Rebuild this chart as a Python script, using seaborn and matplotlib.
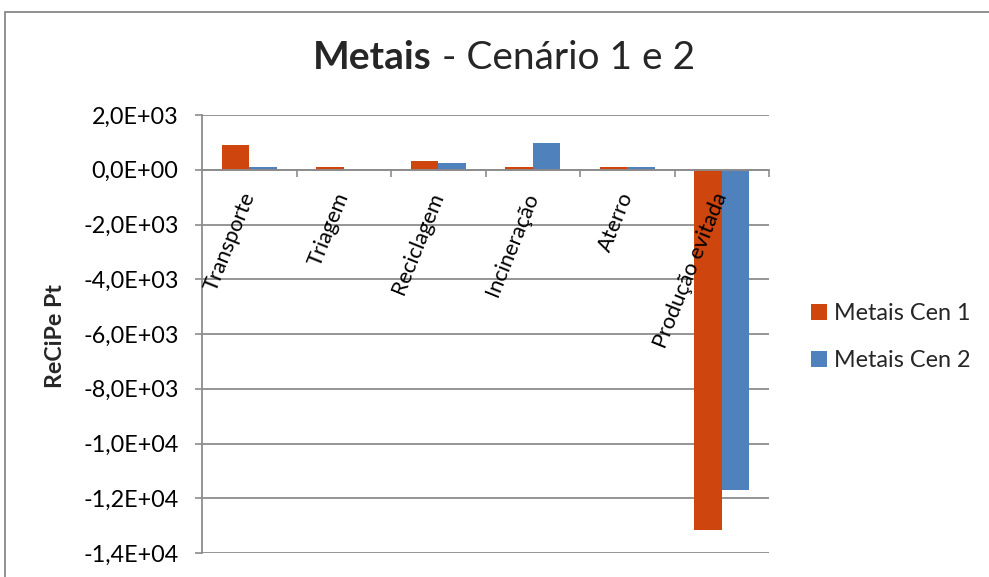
import matplotlib
matplotlib.use("Agg")
import matplotlib.pyplot as plt
import seaborn as sns
import pandas as pd
from matplotlib.patches import Rectangle
from matplotlib.ticker import FixedLocator, FuncFormatter

categories = ["Transporte", "Triagem", "Reciclagem", "Incineração", "Aterro", "Produção evitada"]
series_names = ["Metais Cen 1", "Metais Cen 2"]
cen1 = [890, 90, 307, 90, 90, -13150]
cen2 = [90, 5, 234, 965, 90, -11700]
yticks = [2000, 0, -2000, -4000, -6000, -8000, -10000, -12000, -14000]
colors = ["#CF450E", "#4F81BD"]
title_bold = "Metais"
title_rest = " - Cenário 1 e 2"
ylabel = "ReCiPe Pt"

df = pd.DataFrame({
    "cat": categories * 2,
    "serie": [series_names[0]] * len(categories) + [series_names[1]] * len(categories),
    "val": cen1 + cen2,
})

sns.set_theme(style="white")
plt.rcParams["font.family"] = ["Lato", "DejaVu Sans"]

W, H = 989, 577
fig = plt.figure(figsize=(W / 100, H / 100), dpi=100)
ax = fig.add_axes([202 / W, 1 - 553 / H, (769 - 202) / W, (553 - 115) / H])

sns.barplot(data=df, x="cat", y="val", hue="serie", palette=colors, width=0.578,
            dodge=True, ax=ax, order=categories, hue_order=series_names,
            edgecolor="none", linewidth=0, saturation=1)

grid_c = "#8C8C8C"
ax.set_ylim(-14000, 2000)
ax.set_xlim(-0.5, len(categories) - 0.5)
ax.yaxis.set_major_locator(FixedLocator(yticks))
ax.yaxis.set_major_formatter(FuncFormatter(lambda v, p: f"{v:.1E}".replace(".", ",")))
ax.set_axisbelow(True)
ax.yaxis.grid(True, color=grid_c, lw=1.3)
ax.xaxis.grid(False)
ax.xaxis.set_zorder(4)

for s in ["top", "right"]:
    ax.spines[s].set_visible(False)
ax.spines["left"].set_color(grid_c)
ax.spines["left"].set_linewidth(1.3)
ax.spines["bottom"].set_position(("data", 0))
ax.spines["bottom"].set_color(grid_c)
ax.spines["bottom"].set_linewidth(1.3)

ax.tick_params(axis="y", which="major", left=True, length=5, width=1.2, color=grid_c,
               pad=12, labelsize=16.8, labelcolor="black")
ax.set_xticks(range(len(categories)))
ax.set_xticks([i + 0.5 for i in range(len(categories))], minor=True)
ax.tick_params(axis="x", which="major", bottom=True, length=0, pad=17, labelsize=15.7,
               labelcolor="black")
ax.tick_params(axis="x", which="minor", bottom=True, length=5, width=1.2, color=grid_c)
ax.set_xticklabels(categories, rotation=68, ha="right", va="center", rotation_mode="anchor")
ax.set_xlabel("")
ax.set_ylabel("")

fig.text(55 / W, 1 - 336 / H, ylabel, rotation=90, fontsize=16.7, fontweight="bold",
         ha="center", va="center")

# legend
handles, labels = ax.get_legend_handles_labels()
if ax.legend_:
    ax.legend_.remove()
fig.legend(handles, labels, loc="center left", bbox_to_anchor=(811 / W, 1 - 337 / H),
           frameon=False, fontsize=16.8, handlelength=0.69, handleheight=0.69,
           handletextpad=0.3, labelspacing=1.1, borderpad=0, borderaxespad=0)

# title in two weights, centred
ty = 1 - 69 / H
t1 = fig.text(0, ty, title_bold, fontsize=28, fontweight="bold", va="baseline", ha="left")
t2 = fig.text(0, ty, title_rest, fontsize=28, va="baseline", ha="left")
fig.canvas.draw()
r = fig.canvas.get_renderer()
w1 = t1.get_window_extent(r).width
w2 = t2.get_window_extent(r).width
cx = 504
x0 = cx - (w1 + w2) / 2
t1.set_x(x0 / W)
t2.set_x((x0 + w1) / W)

# chart border
fig.patches.append(Rectangle((5 / W, -0.1), 1.2, 1 - 12 / H + 0.1, transform=fig.transFigure,
                             fill=False, edgecolor="#888888", lw=1.3))

fig.savefig("out.png", dpi=100)
